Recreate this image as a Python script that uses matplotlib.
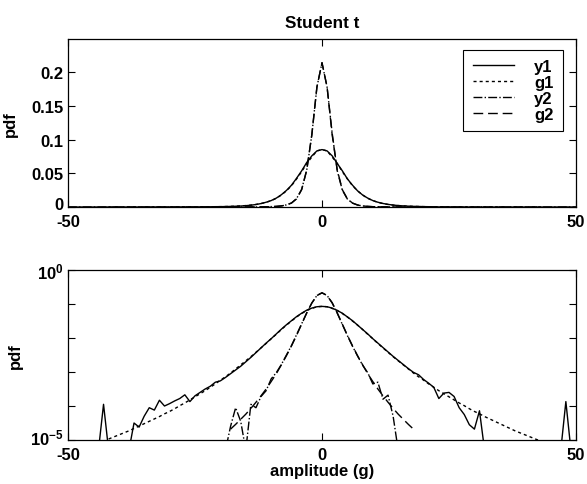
import matplotlib
matplotlib.use("Agg")
import matplotlib.pyplot as plt
from matplotlib.ticker import NullLocator
from matplotlib.transforms import ScaledTranslation
import numpy as np

plt.rcParams['font.family'] = ['Liberation Sans', 'DejaVu Sans']
plt.rcParams['font.weight'] = 'bold'
plt.rcParams['axes.labelweight'] = 'bold'
plt.rcParams['mathtext.fontset'] = 'custom'
plt.rcParams['mathtext.rm'] = 'Liberation Sans:bold'
plt.rcParams['mathtext.it'] = 'Liberation Sans:italic:bold'
plt.rcParams['mathtext.bf'] = 'Liberation Sans:bold'
plt.rcParams['font.size'] = 12
plt.rcParams['legend.fancybox'] = False

# histogram bin centres (amplitude, g)
amp = list(range(-50, 51))

y1_log10 = [
    -5.3, -5.3, -5.3, -5.3, -5.3, -5.3, -5.3, -3.95, -5.3, -5.3,      # -50..-41
    -5.3, -5.3, -5.3, -4.50, -4.62, -4.30, -4.05, -4.12, -3.83, -4.00,  # -40..-31
    -3.93, -3.85, -3.78, -3.67, -3.87, -3.70, -3.60, -3.50, -3.42, -3.30,  # -30..-21
    -3.26, -3.16, -3.05, -2.94, -2.83, -2.70, -2.57, -2.43, -2.29, -2.15,  # -20..-11
    -2.02, -1.88, -1.74, -1.61, -1.49, -1.37, -1.27, -1.18, -1.12, -1.08,  # -10..-1
    -1.07,                                                              # 0
    -1.08, -1.12, -1.19, -1.27, -1.38, -1.49, -1.62, -1.75, -1.88, -2.02,  # 1..10
    -2.15, -2.28, -2.41, -2.54, -2.66, -2.78, -2.90, -3.01, -3.08, -3.22,  # 11..20
    -3.33, -3.45, -3.78, -3.62, -3.60, -3.72, -4.05, -4.25, -4.55, -4.68,  # 21..30
    -4.14, -5.3, -5.3, -5.3, -5.3, -5.3, -5.3, -5.3, -5.3, -5.3,        # 31..40
    -5.3, -5.3, -5.3, -5.3, -5.3, -5.3, -5.3, -3.87, -5.3, -5.3,        # 41..50
]
y2_log10 = [
    -5.3, -5.3, -5.3, -5.3, -5.3, -5.3, -5.3, -5.3, -5.3, -5.3,        # -50..-41
    -5.3, -5.3, -5.3, -5.3, -5.3, -5.3, -5.3, -5.3, -5.3, -5.3,        # -40..-31
    -5.3, -5.3, -5.3, -5.3, -5.3, -5.3, -5.3, -5.3, -5.3, -5.3,        # -30..-21
    -5.3, -5.3, -4.60, -4.05, -4.45, -5.3, -3.95, -4.05, -3.72, -3.55,  # -20..-11
    -3.20, -3.02, -2.78, -2.50, -2.22, -1.90, -1.58, -1.26, -0.97, -0.75,  # -10..-1
    -0.67,                                                              # 0
    -0.75, -0.96, -1.27, -1.60, -1.93, -2.24, -2.53, -2.80, -3.02, -3.35,  # 1..10
    -3.30, -3.80, -3.68, -4.30, -5.3, -5.3, -5.3, -5.3, -5.3, -5.3,     # 11..20
    -5.3, -5.3, -5.3, -5.3, -5.3, -5.3, -5.3, -5.3, -5.3, -5.3,        # 21..30
    -5.3, -5.3, -5.3, -5.3, -5.3, -5.3, -5.3, -5.3, -5.3, -5.3,        # 31..40
    -5.3, -5.3, -5.3, -5.3, -5.3, -5.3, -5.3, -5.3, -5.3, -5.3,        # 41..50
]

# fitted Student t curves (log10 pdf)
g1_amp = list(range(-42, 44))
g1_log10 = [
    -4.97, -4.91, -4.85, -4.79, -4.73, -4.66, -4.59, -4.52, -4.45, -4.38,  # -42..-33
    -4.31, -4.23, -4.16, -4.08, -3.99, -3.91, -3.82, -3.73, -3.64, -3.55,  # -32..-23
    -3.45, -3.35, -3.24, -3.14, -3.03, -2.91, -2.79, -2.67, -2.55, -2.42,  # -22..-13
    -2.29, -2.16, -2.02, -1.89, -1.75, -1.62, -1.50, -1.38, -1.28, -1.19,  # -12..-3
    -1.13, -1.08, -1.07, -1.08, -1.13,                                  # -2..2
    -1.19, -1.28, -1.38, -1.50, -1.62, -1.75, -1.89, -2.02, -2.16, -2.29,  # 3..12
    -2.42, -2.55, -2.67, -2.79, -2.91, -3.03, -3.14, -3.24, -3.35, -3.45,  # 13..22
    -3.55, -3.64, -3.73, -3.82, -3.91, -3.99, -4.08, -4.16, -4.23, -4.31,  # 23..32
    -4.38, -4.45, -4.52, -4.59, -4.66, -4.73, -4.79, -4.85, -4.91, -4.97,  # 33..42
    -5.03,                                                              # 43
]
g2_amp = list(range(-18, 19))
g2_log10 = [
    -4.68, -4.54, -4.39, -4.24, -4.07, -3.89, -3.70, -3.50, -3.28, -3.05,  # -18..-9
    -2.79, -2.52, -2.23, -1.92, -1.59, -1.26, -0.97, -0.75,              # -8..-1
    -0.67,                                                              # 0
    -0.75, -0.97, -1.26, -1.59, -1.92, -2.23, -2.52, -2.79, -3.05, -3.28,  # 1..10
    -3.50, -3.70, -3.89, -4.07, -4.24, -4.39, -4.54, -4.68,              # 11..18
]

labels = ['y1', 'g1', 'y2', 'g2']
styles = ['-', (0, (2.2, 2.2)), '-.', (0, (7, 3.5))]

series = [
    (amp, 10.0 ** np.array(y1_log10)),
    (g1_amp, 10.0 ** np.array(g1_log10)),
    (amp, 10.0 ** np.array(y2_log10)),
    (g2_amp, 10.0 ** np.array(g2_log10)),
]

fig = plt.figure(figsize=(5.87, 4.85), dpi=100)
ax1 = fig.add_axes([0.1158, 0.5711, 0.8655, 0.3464])
ax2 = fig.add_axes([0.1158, 0.0907, 0.8655, 0.3505])

for (xs, ys), lab, ls in zip(series, labels, styles):
    ax1.plot(xs, ys, color='k', linestyle=ls, lw=1.0, label=lab)
    ax2.plot(xs, ys, color='k', linestyle=ls, lw=1.0)

ax1.set_xlim(-50, 50)
ax1.set_ylim(0, 0.249)
ax1.set_xticks([-50, 0, 50])
ax1.set_xticklabels(['-50', '0', '50'])
ax1.set_yticks([0, 0.05, 0.1, 0.15, 0.2])
ax1.set_yticklabels(['0', '0.05', '0.1', '0.15', '0.2'])
ax1.set_ylabel('pdf')
ax1.yaxis.set_label_coords(-0.098, 0.5)
ax1.set_title('Student t', fontsize=12.3, fontweight='bold', pad=9)

leg = ax1.legend(loc='upper right', bbox_to_anchor=(0.974, 0.934), borderaxespad=0,
                 handlelength=2.5, handletextpad=1.2, labelspacing=0.05,
                 borderpad=0.55, frameon=True, fontsize=12)
leg.get_frame().set_edgecolor('k')
leg.get_frame().set_linewidth(0.8)
leg.get_frame().set_alpha(1)

ax2.set_yscale('log')
ax2.set_xlim(-50, 50)
ax2.set_ylim(1e-5, 1)
ax2.set_xticks([-50, 0, 50])
ax2.set_xticklabels(['-50', '0', '50'])
ax2.set_yticks([1e-5, 1e-4, 1e-3, 1e-2, 1e-1, 1])
ax2.set_yticklabels(['$10^{-5}$', '', '', '', '', '$10^{0}$'])
ax2.yaxis.set_minor_locator(NullLocator())
ax2.set_ylabel('pdf')
ax2.yaxis.set_label_coords(-0.089, 0.5)
ax2.set_xlabel('amplitude (g)', labelpad=1)

for ax in (ax1, ax2):
    ax.tick_params(direction='in', top=True, right=True, length=5, width=0.8, pad=3)
    ax.tick_params(axis='x', pad=5)
    for sp in ax.spines.values():
        sp.set_linewidth(0.9)
    # nudge the lowest y label up so it clears the "-50" below it
    fig.canvas.draw()
    lowest = ax.get_yticklabels()[0]
    lowest.set_transform(lowest.get_transform() + ScaledTranslation(0, 3 / 72, fig.dpi_scale_trans))

fig.savefig('out.png', dpi=100)
